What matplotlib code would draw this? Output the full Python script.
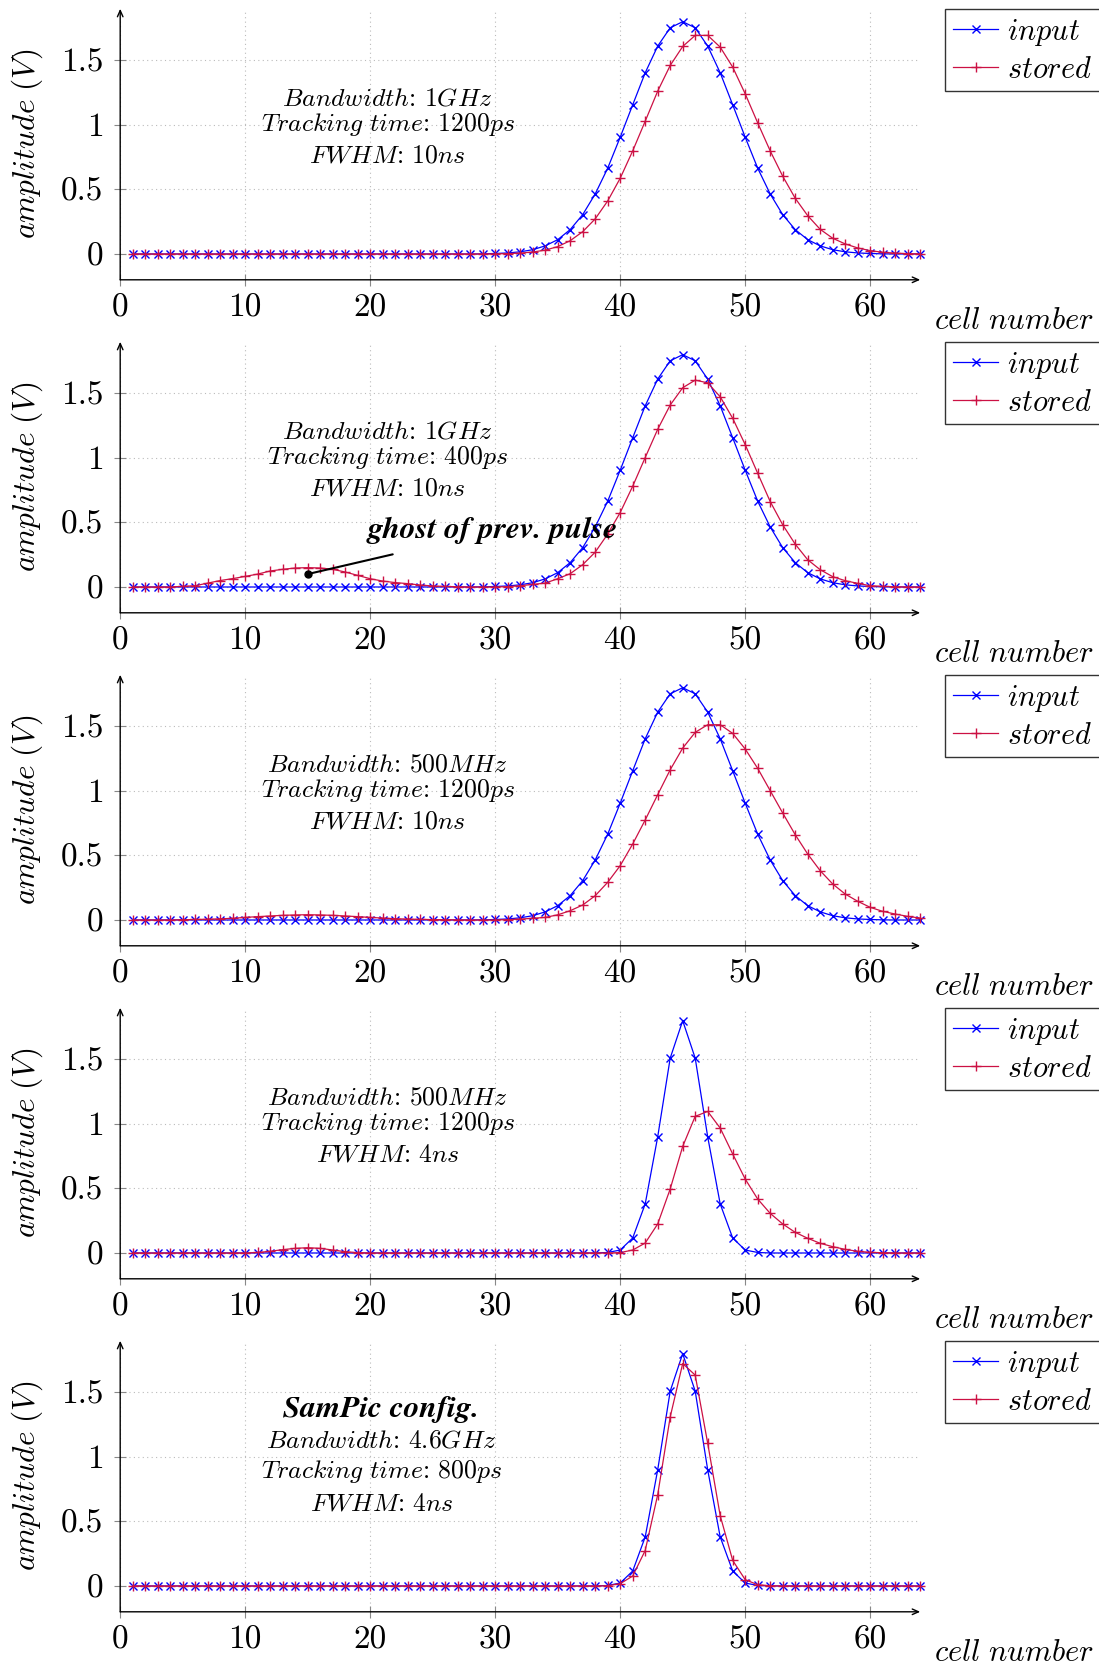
import matplotlib
matplotlib.use("Agg")
import matplotlib.pyplot as plt
from matplotlib.ticker import FuncFormatter, FixedLocator

plt.rcParams['mathtext.fontset'] = 'cm'
plt.rcParams['font.family'] = ['cmr10', 'DejaVu Sans']
plt.rcParams['axes.formatter.use_mathtext'] = True

# ---------------- data ----------------
cells = list(range(1, 65))

input_10ns = [
    0, 0, 0, 0, 0, 0, 0, 0,
    0, 0, 0, 0, 0, 0, 0, 0,
    0, 0, 0, 0, 0, 0, 0, 0,
    0, 0, 0, 0, 0.001, 0.004, 0.008, 0.017,
    0.033, 0.063, 0.111, 0.189, 0.305, 0.465, 0.665, 0.905,
    1.156, 1.404, 1.611, 1.753, 1.800, 1.753, 1.611, 1.404,
    1.156, 0.905, 0.665, 0.465, 0.305, 0.189, 0.111, 0.063,
    0.033, 0.017, 0.008, 0.004, 0.001, 0, 0, 0,
]

input_4ns = [
    0, 0, 0, 0, 0, 0, 0, 0,
    0, 0, 0, 0, 0, 0, 0, 0,
    0, 0, 0, 0, 0, 0, 0, 0,
    0, 0, 0, 0, 0, 0, 0, 0,
    0, 0, 0, 0, 0, 0, 0.004, 0.023,
    0.116, 0.380, 0.900, 1.510, 1.800, 1.510, 0.900, 0.380,
    0.116, 0.023, 0.004, 0, 0, 0, 0, 0,
    0, 0, 0, 0, 0, 0, 0, 0,
]

stored_1ghz_1200ps_10ns = [
    0, 0, 0, 0, 0, 0, 0, 0,
    0, 0, 0, 0, 0, 0, 0, 0,
    0, 0, 0, 0, 0, 0, 0, 0,
    0, 0, 0, 0, 0, 0.001, 0.003, 0.007,
    0.015, 0.030, 0.057, 0.103, 0.173, 0.272, 0.411, 0.587,
    0.799, 1.029, 1.262, 1.461, 1.608, 1.694, 1.694, 1.603,
    1.448, 1.241, 1.016, 0.799, 0.603, 0.432, 0.297, 0.191,
    0.122, 0.078, 0.047, 0.026, 0.013, 0.007, 0.003, 0.001,
]

stored_1ghz_400ps_10ns = [
    0, 0, 0, 0, 0.005, 0.010, 0.030, 0.050,
    0.065, 0.082, 0.100, 0.124, 0.137, 0.147, 0.150, 0.147,
    0.137, 0.116, 0.090, 0.064, 0.046, 0.034, 0.026, 0.015,
    0.008, 0.004, 0.002, 0, 0, 0, 0.003, 0.010,
    0.020, 0.030, 0.064, 0.103, 0.173, 0.270, 0.410, 0.577,
    0.781, 1.003, 1.222, 1.410, 1.544, 1.603, 1.582, 1.474,
    1.307, 1.103, 0.881, 0.662, 0.482, 0.332, 0.211, 0.134,
    0.080, 0.049, 0.028, 0.010, 0.005, 0.002, 0, 0,
]

stored_500mhz_1200ps_10ns = [
    0, 0, 0, 0, 0.002, 0.004, 0.006, 0.009,
    0.013, 0.020, 0.026, 0.031, 0.036, 0.039, 0.041, 0.039,
    0.036, 0.031, 0.026, 0.020, 0.015, 0.010, 0.007, 0.005,
    0.003, 0.002, 0.001, 0, 0, 0, 0.003, 0.007,
    0.013, 0.020, 0.040, 0.072, 0.116, 0.188, 0.292, 0.421,
    0.589, 0.775, 0.971, 1.164, 1.332, 1.454, 1.513, 1.513,
    1.446, 1.325, 1.175, 1.002, 0.829, 0.661, 0.511, 0.382,
    0.279, 0.201, 0.145, 0.098, 0.067, 0.046, 0.028, 0.015,
]

stored_500mhz_1200ps_4ns = [
    0, 0, 0, 0, 0, 0, 0, 0,
    0, 0, 0.004, 0.013, 0.026, 0.036, 0.041, 0.036,
    0.023, 0.010, 0.003, 0, 0, 0, 0, 0,
    0, 0, 0, 0, 0, 0, 0, 0,
    0, 0, 0, 0, 0, 0, 0, 0.003,
    0.023, 0.077, 0.225, 0.496, 0.826, 1.059, 1.097, 0.968,
    0.767, 0.573, 0.418, 0.307, 0.225, 0.160, 0.114, 0.075,
    0.049, 0.028, 0.013, 0.005, 0.002, 0, 0, 0,
]

stored_sampic = [
    0, 0, 0, 0, 0, 0, 0, 0,
    0, 0, 0, 0, 0, 0, 0, 0,
    0, 0, 0, 0, 0, 0, 0, 0,
    0, 0, 0, 0, 0, 0, 0, 0,
    0, 0, 0, 0, 0, 0, 0.002, 0.018,
    0.077, 0.275, 0.707, 1.310, 1.724, 1.634, 1.106, 0.545,
    0.198, 0.049, 0.010, 0.002, 0, 0, 0, 0,
    0, 0, 0, 0, 0, 0, 0, 0,
]

x_ticks = [0, 10, 20, 30, 40, 50, 60]
y_ticks = [0, 0.5, 1, 1.5]
series_labels = ["input", "stored"]

panel_inputs = [input_10ns, input_10ns, input_10ns, input_4ns, input_4ns]
panel_stored = [stored_1ghz_1200ps_10ns, stored_1ghz_400ps_10ns,
                stored_500mhz_1200ps_10ns, stored_500mhz_1200ps_4ns, stored_sampic]
panel_texts = [
    ["Bandwidth: 1GHz", "Tracking time: 1200ps", "FWHM: 10ns"],
    ["Bandwidth: 1GHz", "Tracking time: 400ps", "FWHM: 10ns"],
    ["Bandwidth: 500MHz", "Tracking time: 1200ps", "FWHM: 10ns"],
    ["Bandwidth: 500MHz", "Tracking time: 1200ps", "FWHM: 4ns"],
    ["Bandwidth: 4.6GHz", "Tracking time: 800ps", "FWHM: 4ns"],
]
panel_titles = [None, None, None, None, "SamPic config."]
ghost_label = "ghost of prev. pulse"

# ---------------- styling ----------------
BLUE = '#0000FF'
RED = '#CC1144'
TICK_FS = 24
LAB_FS = 22.5
LEG_FS = 21.8
TFS = 18.5
BFS = 22.5


def to_math(s):
    left, right = s.split(': ')
    left = left.replace(' ', r'\ ')
    return '$' + left + '$: $' + right + '$'


def mathit(s):
    return '$' + s.replace(' ', r'\ ') + '$'


W, H = 1099, 1668
fig = plt.figure(figsize=(W / 100, H / 100), dpi=100)

left_px = 120.2
right_px = 920.2
axis_h_px = 271.0

for i in range(5):
    base_px = 279.8 + 333.0 * i
    ax = fig.add_axes([left_px / W, 1 - base_px / H,
                       (right_px - left_px) / W, axis_h_px / H])
    ax.set_xlim(0, 64)
    ax.set_ylim(-0.2, 1.9)

    ax.plot(cells, panel_inputs[i], color=BLUE, lw=0.9, marker='x', ms=5.5,
            mew=1.0, clip_on=False, zorder=3, label=series_labels[0])
    ax.plot(cells, panel_stored[i], color=RED, lw=0.9, marker='+', ms=7.5,
            mew=1.0, clip_on=False, zorder=4, label=series_labels[1])

    for s in ax.spines.values():
        s.set_visible(False)
    ax.annotate('', xy=(1.0, 0), xytext=(0, 0), xycoords='axes fraction',
                arrowprops=dict(arrowstyle='->,head_length=0.45,head_width=0.2',
                                lw=1.0, color='black', shrinkA=0, shrinkB=0))
    ax.annotate('', xy=(0, 1.0), xytext=(0, 0), xycoords='axes fraction',
                arrowprops=dict(arrowstyle='->,head_length=0.45,head_width=0.2',
                                lw=1.0, color='black', shrinkA=0, shrinkB=0))

    ax.xaxis.set_major_locator(FixedLocator(x_ticks))
    ax.yaxis.set_major_locator(FixedLocator(y_ticks))
    fmt = FuncFormatter(lambda v, p: '%g' % v)
    ax.xaxis.set_major_formatter(fmt)
    ax.yaxis.set_major_formatter(fmt)
    ax.tick_params(axis='both', direction='inout', length=8, width=0.8,
                   color='#888888', labelsize=TICK_FS)
    ax.tick_params(axis='x', pad=5.5)
    ax.tick_params(axis='y', pad=8)
    ax.grid(True, linestyle=(0, (1, 3)), color='#bbbbbb', linewidth=0.8)
    ax.set_axisbelow(True)

    ax.text(-0.1156, 0.5, mathit('amplitude (V)'), rotation=90,
            ha='center', va='center', transform=ax.transAxes, fontsize=LAB_FS)
    ax.text(1.0173, -49 / axis_h_px, mathit('cell number'), ha='left',
            va='baseline', transform=ax.transAxes, fontsize=LAB_FS - 0.5)

    if panel_titles[i] is None:
        xc = 21.4
        ys = [1.152, 0.955, 0.707]
    else:
        xc = 20.9
        ax.text(xc, 1.312, panel_titles[i], ha='center', va='baseline',
                fontsize=BFS, family='STIXGeneral', style='italic',
                weight='bold')
        ys = [1.075, 0.835, 0.585]
    for t, y in zip(panel_texts[i], ys):
        ax.text(xc, y, to_math(t), ha='center', va='baseline', fontsize=TFS)

    if i == 1:
        ax.text(29.8, 0.38, ghost_label, ha='center', va='baseline',
                fontsize=BFS, family='STIXGeneral', style='italic',
                weight='bold', zorder=6)
        ax.annotate('', xy=(15, 0.1), xytext=(21.8, 0.253), xycoords='data',
                    arrowprops=dict(arrowstyle='-', lw=1.5, color='black',
                                    shrinkA=0, shrinkB=0), zorder=6)
        ax.plot([15], [0.1], 'o', color='black', ms=5, zorder=7)

    leg = ax.legend([ax.lines[0], ax.lines[1]],
                    [mathit(series_labels[0]), mathit(series_labels[1]) + '  '],
                    loc='upper left', bbox_to_anchor=(1.031, 1.0),
                    borderaxespad=0, fancybox=False, framealpha=1,
                    edgecolor='#333333', handlelength=1.5, handletextpad=0.3,
                    labelspacing=0.28, borderpad=0.26, prop={'size': LEG_FS})
    leg.get_frame().set_linewidth(1.0)

fig.savefig('out.png', dpi=100)
